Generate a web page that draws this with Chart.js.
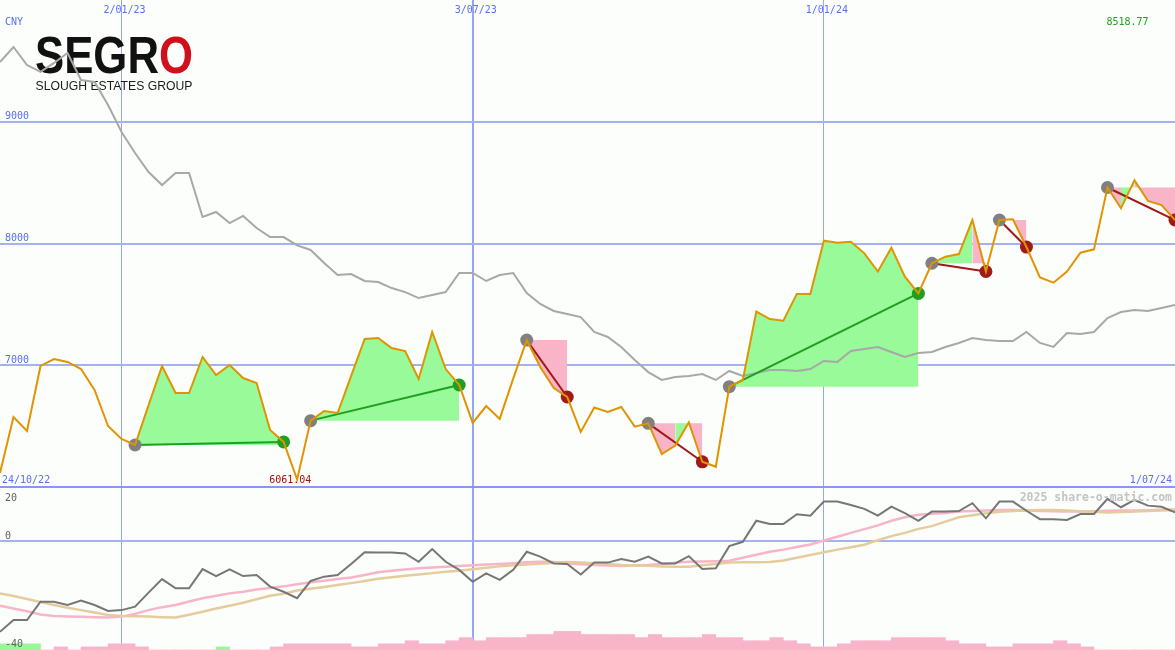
<!DOCTYPE html>
<html lang="en">
<head>
<meta charset="UTF-8">
<title>SEGRO - CNY weekly</title>
<script src="https://cdn.jsdelivr.net/npm/chart.js"></script>
<style>
  * { margin: 0; padding: 0; }
  body { background: #fcfefc; width: 1175px; height: 650px; overflow: hidden; }
  #chart { display: block; }
</style>
</head>
<body>
<canvas id="chart" width="1175" height="650"></canvas>
<script>
// weekly closes in CNY, 24/10/22 .. 1/07/24 (88 weeks)
const price = [
  6115, 6575, 6460, 6994, 7051, 7027, 6969, 6797, 6501, 6394,
  6345, 6673, 6994, 6772, 6772, 7068, 6920, 7002, 6895, 6854,
  6468, 6370, 6061.04, 6545, 6624, 6608, 6912, 7216, 7224, 7141,
  7117, 6887, 7273, 6969, 6838, 6526, 6665, 6559, 6890, 7207,
  6986, 6813, 6739, 6452, 6653, 6616, 6657, 6496, 6523, 6271,
  6340, 6530, 6207, 6166, 6824, 6879, 7441, 7379, 7366, 7586,
  7586, 8023, 8007, 8015, 7919, 7770, 7966, 7728, 7590, 7838,
  7892, 7913, 8193, 7770, 8193, 8199, 7971, 7722, 7678, 7770,
  7924, 7952, 8460, 8289, 8518.77, 8349, 8316, 8193
];
// grey comparison line
const benchmark = [
  9491, 9614, 9466, 9409, 9483, 9565, 9343, 9327, 9138, 8916,
  8743, 8587, 8480, 8579, 8579, 8218, 8259, 8168, 8226, 8127,
  8053, 8053, 7984, 7947, 7840, 7741, 7749, 7692, 7684, 7634,
  7601, 7552, 7577, 7601, 7758, 7758, 7692, 7741, 7758, 7593,
  7503, 7446, 7421, 7396, 7273, 7232, 7150, 7043, 6944, 6879,
  6903, 6912, 6928, 6879, 6953, 6912, 6936, 6961, 6961, 6953,
  6969, 7035, 7027, 7117, 7133, 7150, 7109, 7068, 7101, 7109,
  7150, 7183, 7224, 7207, 7199, 7199, 7273, 7183, 7150, 7265,
  7257, 7273, 7388, 7437, 7454, 7446, 7470, 7495
];
// lower panel
const oscillator = [
  -33.6, -29.3, -29.3, -22.5, -22.5, -23.7, -22.1, -23.7, -25.9, -25.6,
  -24.3, -19.1, -14.1, -17.5, -17.5, -10.4, -13.0, -10.5, -13.0, -12.6,
  -16.9, -18.8, -21.2, -14.8, -13.2, -12.6, -8.5, -4.2, -4.3, -4.3,
  -4.6, -7.7, -3.0, -7.7, -10.7, -15.1, -12.0, -14.4, -10.7, -4.0,
  -5.8, -8.3, -8.5, -12.4, -8.0, -8.0, -6.7, -7.7, -5.8, -8.3,
  -8.3, -5.6, -10.4, -10.1, -1.9, -0.3, 7.5, 6.3, 6.3, 9.9,
  9.4, 14.6, 14.6, 13.3, 11.9, 9.4, 12.7, 10.3, 7.5, 10.9,
  10.9, 11.1, 14.0, 8.4, 14.6, 14.6, 11.2, 8.1, 8.1, 7.8,
  10.0, 10.0, 15.6, 12.5, 15.2, 13.1, 12.7, 10.6
];
const oscPink = [
  -24.0, -25.0, -26.0, -27.2, -27.8, -28.0, -28.1, -28.2, -28.3, -28.0,
  -27.0, -25.6, -24.5, -23.7, -22.4, -21.2, -20.3, -19.4, -18.8, -18.0,
  -17.4, -16.8, -16.0, -15.3, -14.7, -14.1, -13.5, -12.6, -11.6, -11.0,
  -10.6, -10.1, -9.8, -9.5, -9.3, -9.0, -8.7, -8.5, -8.2, -7.9,
  -7.7, -7.8, -8.3, -8.6, -8.9, -9.1, -9.3, -9.1, -8.9, -8.5,
  -8.1, -7.7, -7.6, -7.5, -7.3, -6.2, -5.1, -4.0, -3.2, -2.2,
  -1.3, 0.2, 1.6, 3.0, 4.4, 5.8, 7.5, 8.8, 9.7, 10.1,
  10.4, 10.9, 11.1, 11.3, 11.5, 11.5, 11.3, 11.1, 11.0, 10.9,
  10.9, 11.0, 11.2, 11.3, 11.3, 11.4, 11.6, 11.7
];
const oscTan = [
  -19.4, -20.4, -21.5, -22.6, -23.7, -24.7, -25.6, -26.5, -27.4, -27.8,
  -27.9, -28.0, -28.2, -28.3, -27.3, -26.2, -25.0, -24.0, -22.9, -21.6,
  -20.3, -19.5, -18.3, -17.7, -17.0, -16.3, -15.6, -14.8, -14.0, -13.4,
  -12.9, -12.4, -11.9, -11.4, -11.0, -10.5, -9.9, -9.4, -9.0, -8.7,
  -8.4, -8.1, -7.8, -8.0, -8.2, -8.5, -8.9, -9.1, -9.2, -9.4,
  -9.5, -9.5, -9.0, -8.5, -8.0, -7.9, -7.9, -7.8, -7.2, -6.2,
  -5.2, -4.2, -3.2, -2.3, -1.4, 0.3, 1.8, 3.0, 4.5, 5.5,
  7.2, 8.8, 9.5, 10.3, 10.8, 11.1, 11.3, 11.5, 11.5, 11.3,
  11.0, 10.8, 10.6, 10.7, 10.9, 11.1, 11.3, 11.5
];
const volume = [
  2, 2, 2, 0, 1, 0, 1, 1, 2, 2,
  1, 0, 0, 0, 0, 0, 1, 0, 0, 0,
  1, 2, 2, 2, 2, 2, 1, 1, 2, 2,
  3, 2, 2, 3, 4, 3, 4, 4, 4, 5,
  5, 6, 6, 5, 5, 5, 5, 4, 5, 4,
  4, 4, 5, 4, 4, 3, 3, 4, 3, 2,
  1, 1, 2, 3, 3, 3, 4, 4, 4, 4,
  3, 2, 2, 1, 1, 2, 2, 2, 3, 2,
  1, 0, 0, 0, 0, 0, 0, 0
];
const volumeUp = [0, 1, 2, 16]; // weeks with green bars

// trades (week index of entry and exit)
const tradeEntry = [10, 23, 39, 48, 54, 69, 74, 82];
const tradeExit  = [21, 34, 42, 52, 68, 73, 76, 87];

const dateTicks = [9, 35, 61];
const dateLabels = ['2/01/23', '3/07/23', '1/01/24'];
const priceTicks = [7000, 8000, 9000];
const oscTicks = [20, 0, -40];
const firstDate = '24/10/22', lastDate = '1/07/24', currency = 'CNY';

const BLUE = '#5a6ef0', GRID = '#a4b2f4', VGRID = '#95a6f6', SEP = '#8898f0';
const ORANGE = '#e09400', GREEN = '#1f9f1f', RED = '#a01a1a', MARK = '#808080';
const FILL_G = '#98fa98', FILL_P = '#fab4c8';
const NONE = 'rgba(0,0,0,0)';
const MONO = '"DejaVu Sans Mono", monospace';

const pts = arr => arr.map((v, i) => ({ x: i, y: v }));
const datasets = [];

datasets.push({ type: 'line', data: pts(price), yAxisID: 'y', borderColor: ORANGE, borderWidth: 2, pointRadius: 0, order: 0 });
datasets.push({ type: 'line', data: pts(benchmark), yAxisID: 'y', borderColor: '#a8a8a8', borderWidth: 2, pointRadius: 0, order: 2 });

tradeEntry.forEach((e, t) => {
  const x = tradeExit[t];
  const entry = price[e];
  const win = price[x] >= entry;
  datasets.push({
    type: 'line', data: [{ x: e, y: entry }, { x: x, y: price[x] }], yAxisID: 'y',
    borderColor: win ? GREEN : RED, borderWidth: 2,
    pointRadius: 6.5, pointBorderWidth: 0,
    pointBackgroundColor: [MARK, win ? GREEN : RED], order: 1
  });
  // shaded profit / loss against the entry price; colour follows each week's close
  datasets.push({
    type: 'line', data: price.slice(e, x + 1).map((v, i) => ({ x: e + i, y: v })), yAxisID: 'y',
    borderColor: NONE, borderWidth: 0, pointRadius: 0,
    fill: { value: entry }, backgroundColor: FILL_G,
    segment: { backgroundColor: c => (c.p1.parsed.y >= entry ? FILL_G : FILL_P) },
    order: 3
  });
});

datasets.push({ type: 'line', data: pts(oscillator), yAxisID: 'y2', borderColor: '#767676', borderWidth: 2, pointRadius: 0, order: 0 });
datasets.push({ type: 'line', data: pts(oscTan), yAxisID: 'y2', borderColor: '#e4cc9c', borderWidth: 2.5, pointRadius: 0, order: 1 });
datasets.push({ type: 'line', data: pts(oscPink), yAxisID: 'y2', borderColor: '#f8b4c8', borderWidth: 2.5, pointRadius: 0, order: 2 });
datasets.push({
  type: 'bar', data: volume.map((v, i) => ({ x: i + 0.5, y: v })), yAxisID: 'yv',
  backgroundColor: volume.map((v, i) => volumeUp.includes(i) ? '#98f898' : '#f8b4c8'),
  borderWidth: 0, barPercentage: 1, categoryPercentage: 1, grouped: false, order: 5
});

const overlay = {
  id: 'overlay',
  beforeDatasetsDraw(chart) {
    const ctx = chart.ctx;
    ctx.save();
    ctx.textBaseline = 'alphabetic';
    ctx.font = 'bold 52px "Liberation Sans", Arial, sans-serif';
    const sx = 158 / ctx.measureText('SEGRO').width;
    ctx.translate(35, 73);
    ctx.scale(sx, 1);
    ctx.fillStyle = '#111111';
    ctx.fillText('SEGR', 0, 0);
    const wr = ctx.measureText('SEGR').width;
    ctx.fillStyle = '#d0101c';
    ctx.fillText('O', wr, 0);
    ctx.restore();
    ctx.save();
    ctx.font = '13.5px "Liberation Sans", Arial, sans-serif';
    const sub = 'SLOUGH ESTATES GROUP';
    const sx2 = 157 / ctx.measureText(sub).width;
    ctx.translate(35.5, 89.5);
    ctx.scale(sx2, 1);
    ctx.fillStyle = '#1a1a1a';
    ctx.fillText(sub, 0, 0);
    ctx.restore();
  },
  afterDatasetsDraw(chart) {
    const ctx = chart.ctx;
    const { x, y, y2 } = chart.scales;
    ctx.save();
    ctx.font = '10px ' + MONO;
    ctx.textBaseline = 'alphabetic';
    ctx.fillStyle = BLUE;
    ctx.textAlign = 'left';
    ctx.fillText(currency, 5, 25);
    priceTicks.forEach(v => ctx.fillText(String(v), 5, y.getPixelForValue(v) - 2.5));
    ctx.fillText(firstDate, 2, 482.5);
    ctx.textAlign = 'center';
    dateTicks.forEach((v, i) => ctx.fillText(dateLabels[i], x.getPixelForValue(v) + 3, 12.5));
    ctx.textAlign = 'right';
    ctx.fillText(lastDate, 1172, 482.5);

    // lowest and highest close
    const lo = Math.min(...price), hi = Math.max(...price);
    ctx.textAlign = 'left';
    ctx.fillStyle = '#a01010';
    ctx.fillText(lo.toFixed(2), x.getPixelForValue(price.indexOf(lo)) - 28, 482.5);
    ctx.fillStyle = '#20a020';
    ctx.fillText(hi.toFixed(2), x.getPixelForValue(price.indexOf(hi)) - 28, 25);

    ctx.fillStyle = '#606060';
    oscTicks.forEach(v => {
      const py = y2.getPixelForValue(v);
      ctx.fillText(String(v), 5, v === 20 ? py + 13.5 : py - 2.5);
    });

    ctx.font = 'bold 11.5px ' + MONO;
    ctx.fillStyle = '#c4c4c4';
    ctx.textAlign = 'right';
    ctx.fillText('2025 share-o-matic.com', 1172, 500.5);
    ctx.restore();
  }
};

const hiddenTicks = { display: false };
new Chart(document.getElementById('chart'), {
  data: { datasets },
  options: {
    responsive: false,
    animation: false,
    events: [],
    layout: { padding: 0, autoPadding: false },
    plugins: { legend: { display: false }, tooltip: { enabled: false } },
    scales: {
      x: {
        type: 'linear', min: 0, max: 87, offset: false,
        afterBuildTicks: s => { s.ticks = dateTicks.map(v => ({ value: v })); },
        ticks: hiddenTicks, border: { display: false },
        grid: { offset: false, drawTicks: false, color: VGRID, lineWidth: c => (c.tick && c.tick.value === 35 ? 2 : 1) }
      },
      y: {
        type: 'linear', position: 'left', stack: 'panels', stackWeight: 487, weight: 2,
        min: 6000, max: 10000,
        afterBuildTicks: s => { s.ticks = priceTicks.map(v => ({ value: v })); },
        ticks: hiddenTicks, border: { display: false },
        grid: { drawTicks: false, color: GRID, lineWidth: 2 }
      },
      y2: {
        type: 'linear', position: 'left', stack: 'panels', stackWeight: 163, weight: 1,
        min: -40.37, max: 20,
        afterBuildTicks: s => { s.ticks = [20, 0].map(v => ({ value: v })); },
        ticks: hiddenTicks, border: { display: false },
        grid: { drawTicks: false, color: c => (c.tick && c.tick.value === 20 ? SEP : GRID), lineWidth: 2 }
      },
      yv: { type: 'linear', display: false, min: 0, max: 210 }
    }
  },
  plugins: [overlay]
});
</script>
</body>
</html>
